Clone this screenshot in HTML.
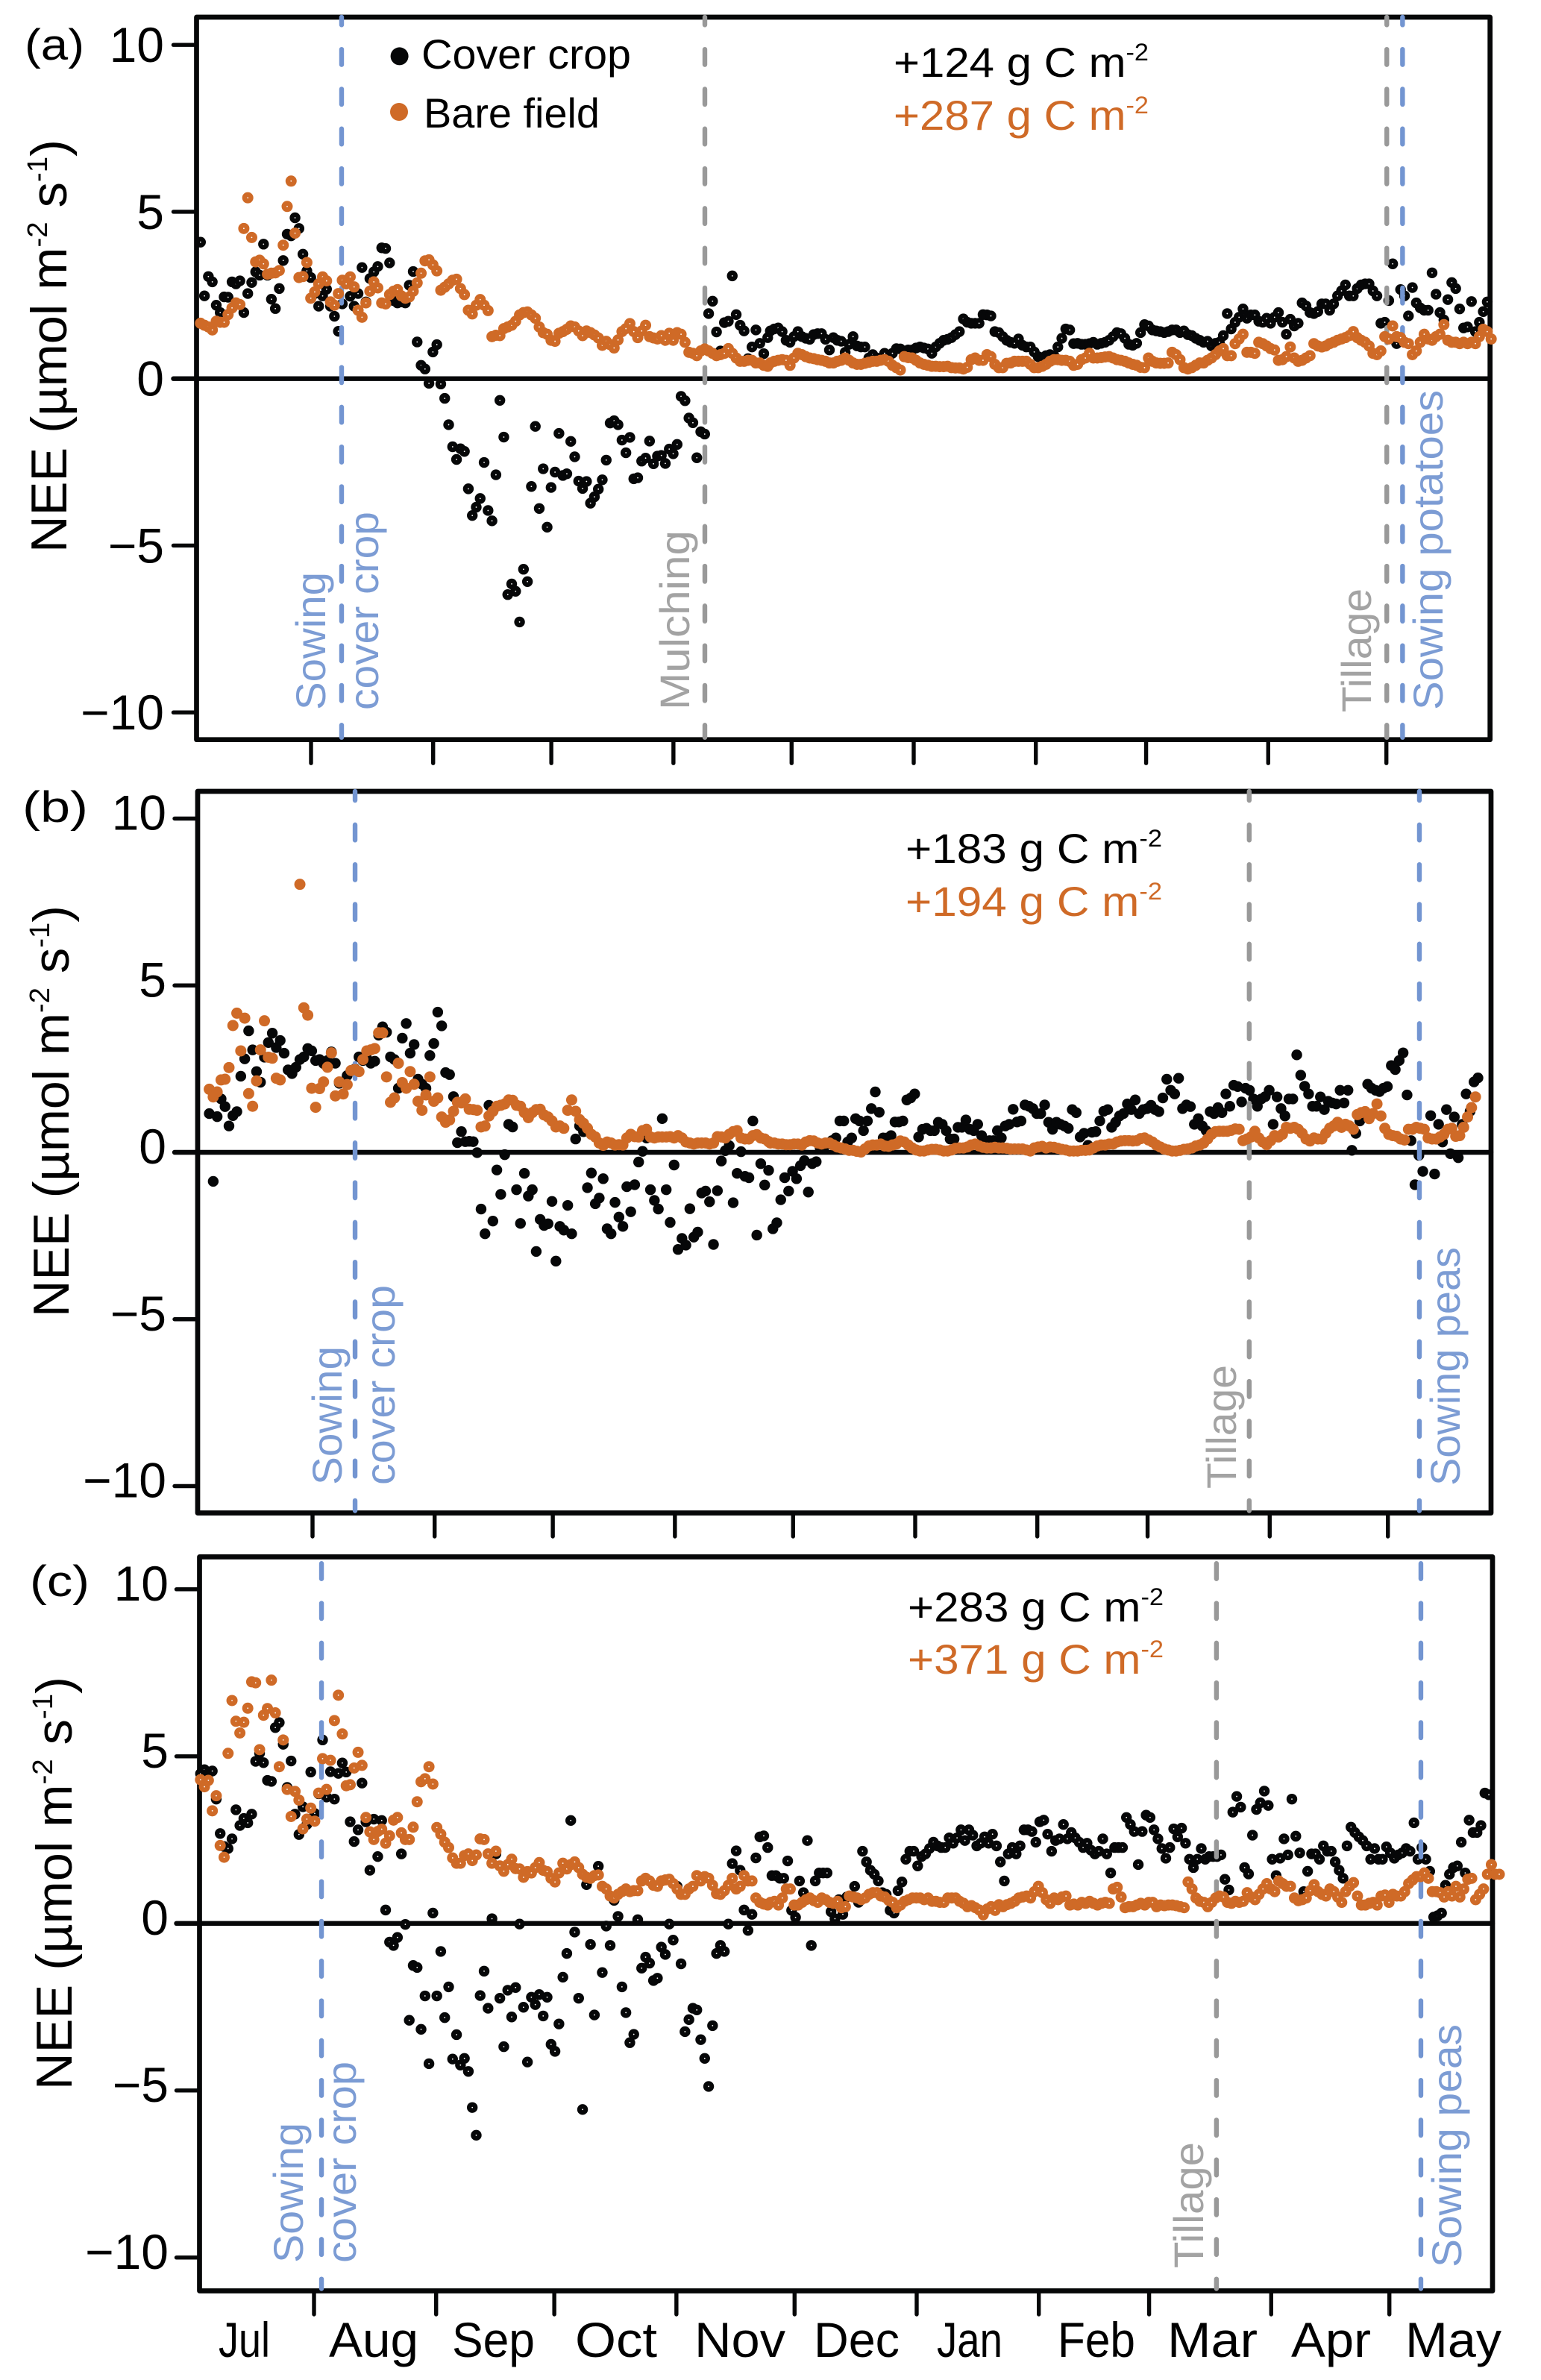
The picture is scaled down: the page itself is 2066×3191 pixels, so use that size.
<!DOCTYPE html>
<html lang="en">
<head>
<meta charset="utf-8">
<title>NEE time series for cover crop and bare field</title>
<style>
html,body{margin:0;padding:0;background:#fff}
svg{display:block}
text{font-family:"Liberation Sans",sans-serif}
</style>
</head>
<body>
<svg id="chart" xmlns="http://www.w3.org/2000/svg" width="2066" height="3191" viewBox="0 0 2066 3191">
<rect x="0" y="0" width="2066" height="3191" fill="#fff"/>
<g id="axes"></g>
<g id="coverMarks"></g>
<g id="events"></g>
<g id="bareMarks"></g>

<g>
<text x="33" y="80" font-size="58" textLength="80" lengthAdjust="spacingAndGlyphs">(a)</text>
<text transform="translate(89,741) rotate(-90)" font-size="68" textLength="554" lengthAdjust="spacingAndGlyphs">NEE (µmol m<tspan dy="-26" font-size="38">-2</tspan><tspan dy="26"> s</tspan><tspan dy="-26" font-size="38">-1</tspan><tspan dy="26">)</tspan></text>
<text x="565" y="92" font-size="56" textLength="281" lengthAdjust="spacingAndGlyphs">Cover crop</text>
<text x="568" y="171" font-size="56" textLength="236" lengthAdjust="spacingAndGlyphs">Bare field</text>
<text x="1198" y="103" font-size="56" textLength="342" lengthAdjust="spacingAndGlyphs">+124 g C m<tspan dy="-22" font-size="32">-2</tspan></text>
<text x="1198" y="174" font-size="56" fill="#cf6a27" textLength="342" lengthAdjust="spacingAndGlyphs">+287 g C m<tspan dy="-22" font-size="32">-2</tspan></text>
<text transform="translate(436,952) rotate(-90)" font-size="56" fill="#7c9cd4" textLength="185" lengthAdjust="spacingAndGlyphs">Sowing</text>
<text transform="translate(507,952) rotate(-90)" font-size="56" fill="#7c9cd4" textLength="266" lengthAdjust="spacingAndGlyphs">cover crop</text>
<text transform="translate(924,952) rotate(-90)" font-size="56" fill="#a3a3a3" textLength="241" lengthAdjust="spacingAndGlyphs">Mulching</text>
<text transform="translate(1838,955) rotate(-90)" font-size="56" fill="#a3a3a3" textLength="166" lengthAdjust="spacingAndGlyphs">Tillage</text>
<text transform="translate(1934,952) rotate(-90)" font-size="56" fill="#7c9cd4" textLength="429" lengthAdjust="spacingAndGlyphs">Sowing potatoes</text>
</g>

<g>
<text x="30" y="1102" font-size="58" textLength="88" lengthAdjust="spacingAndGlyphs">(b)</text>
<text transform="translate(92,1766) rotate(-90)" font-size="68" textLength="552" lengthAdjust="spacingAndGlyphs">NEE (µmol m<tspan dy="-26" font-size="38">-2</tspan><tspan dy="26"> s</tspan><tspan dy="-26" font-size="38">-1</tspan><tspan dy="26">)</tspan></text>
<text x="1214" y="1157" font-size="56" textLength="344" lengthAdjust="spacingAndGlyphs">+183 g C m<tspan dy="-22" font-size="32">-2</tspan></text>
<text x="1214" y="1228" font-size="56" fill="#cf6a27" textLength="344" lengthAdjust="spacingAndGlyphs">+194 g C m<tspan dy="-22" font-size="32">-2</tspan></text>
<text transform="translate(458,1991) rotate(-90)" font-size="56" fill="#7c9cd4" textLength="186" lengthAdjust="spacingAndGlyphs">Sowing</text>
<text transform="translate(529,1991) rotate(-90)" font-size="56" fill="#7c9cd4" textLength="268" lengthAdjust="spacingAndGlyphs">cover crop</text>
<text transform="translate(1657,1996) rotate(-90)" font-size="56" fill="#a3a3a3" textLength="166" lengthAdjust="spacingAndGlyphs">Tillage</text>
<text transform="translate(1957,1992) rotate(-90)" font-size="56" fill="#7c9cd4" textLength="320" lengthAdjust="spacingAndGlyphs">Sowing peas</text>
</g>

<g>
<text x="40" y="2140" font-size="58" textLength="80" lengthAdjust="spacingAndGlyphs">(c)</text>
<text transform="translate(96,2802) rotate(-90)" font-size="68" textLength="554" lengthAdjust="spacingAndGlyphs">NEE (µmol m<tspan dy="-26" font-size="38">-2</tspan><tspan dy="26"> s</tspan><tspan dy="-26" font-size="38">-1</tspan><tspan dy="26">)</tspan></text>
<text x="1217" y="2174" font-size="56" textLength="343" lengthAdjust="spacingAndGlyphs">+283 g C m<tspan dy="-22" font-size="32">-2</tspan></text>
<text x="1217" y="2244" font-size="56" fill="#cf6a27" textLength="343" lengthAdjust="spacingAndGlyphs">+371 g C m<tspan dy="-22" font-size="32">-2</tspan></text>
<text transform="translate(406,3034) rotate(-90)" font-size="56" fill="#7c9cd4" textLength="188" lengthAdjust="spacingAndGlyphs">Sowing</text>
<text transform="translate(477,3034) rotate(-90)" font-size="56" fill="#7c9cd4" textLength="270" lengthAdjust="spacingAndGlyphs">cover crop</text>
<text transform="translate(1613,3041) rotate(-90)" font-size="56" fill="#a3a3a3" textLength="169" lengthAdjust="spacingAndGlyphs">Tillage</text>
<text transform="translate(1959,3040) rotate(-90)" font-size="56" fill="#7c9cd4" textLength="326" lengthAdjust="spacingAndGlyphs">Sowing peas</text>
</g>

<g font-size="66">
<text x="293" y="3160" textLength="69" lengthAdjust="spacingAndGlyphs">Jul</text>
<text x="441" y="3160" textLength="120" lengthAdjust="spacingAndGlyphs">Aug</text>
<text x="606" y="3160" textLength="111" lengthAdjust="spacingAndGlyphs">Sep</text>
<text x="771" y="3160" textLength="110" lengthAdjust="spacingAndGlyphs">Oct</text>
<text x="931" y="3160" textLength="122" lengthAdjust="spacingAndGlyphs">Nov</text>
<text x="1091" y="3160" textLength="115" lengthAdjust="spacingAndGlyphs">Dec</text>
<text x="1256" y="3160" textLength="88" lengthAdjust="spacingAndGlyphs">Jan</text>
<text x="1418" y="3160" textLength="104" lengthAdjust="spacingAndGlyphs">Feb</text>
<text x="1565" y="3160" textLength="121" lengthAdjust="spacingAndGlyphs">Mar</text>
<text x="1731" y="3160" textLength="107" lengthAdjust="spacingAndGlyphs">Apr</text>
<text x="1884" y="3160" textLength="129" lengthAdjust="spacingAndGlyphs">May</text>
</g>
</svg>

<script>
const tickDays = [31,62,92,123,153,184,215,243,274,304];
const yTickValues = [10,5,0,-5,-10];
const yTickLabels = ['10','5','0','\u22125','\u221210'];

const coverA1 = [4.09,2.48,3.06,2.9,2.2,1.98,2.45,2.44,2.9,2.84,2.93,1.98,2.55,2.88,3.2,3.1,4.03,3.1,2.38,2.1,2.7,3.54,4.33,4.28,4.82,4.5,3.73,3.23,3.03,2.55,2.17,2.48,2.68,2.17,1.87,1.42,2.24,2.84,2.47,2.17,2.55,3.33,2.3,3.0,3.2,3.36,3.92,3.9,3.47,2.34,2.27,2.3,2.27,2.8,3.21,1.1,0.4,0.29,-0.14,0.8,1.02,-0.16,-0.59,-1.38,-2.04,-2.42,-2.1,-2.18,-3.3,-4.1,-3.85,-3.59,-2.51,-3.95,-4.26,-2.88,-0.65,-1.75,-6.47,-6.15,-6.37,-7.29,-5.71,-6.08,-3.23,-1.43,-3.89,-2.7,-4.45,-3.26,-2.8,-1.64,-2.9,-2.85,-1.88,-2.34,-3.07,-3.29,-3.08,-3.73,-3.54,-3.31,-3.03,-2.44,-1.33,-1.26,-1.38,-1.84,-2.22,-1.76,-3.0,-2.97,-2.47,-2.38,-1.87,-2.55,-2.32,-2.3,-2.54,-2.11,-2.25,-1.97,-0.53,-0.66,-1.18,-1.32,-2.37,-1.59,-1.66,1.95,2.32,1.4,0.83,1.68,1.72,3.08,1.92,1.6,1.43,0.6,0.95,1.46,1.06,0.75,1.23];
const coverA2 = [1.43,1.49,1.52,1.41,1.15,1.09,1.26,1.41,1.26,1.21,1.18,1.32,1.35,1.35,1.18,0.86,1.23,1.15,1.12,0.79,1.03,1.26,0.98,0.95,0.95,0.62,0.72,0.62,0.57,0.76,0.62,0.76,0.9,0.89,0.83,0.86,0.86,0.92,0.95,0.92,0.89,0.76,0.95,1.06,1.15,1.18,1.23,1.32,1.41,1.79,1.69,1.66,1.66,1.66,1.92,1.91,1.88,1.41,1.38,1.26,1.15,1.09,1.06,1.19,1.0,0.95,0.95,0.8,0.66,0.63,0.69,0.72,0.69,0.95,1.21,1.49,1.46,1.05,1.06,1.03,1.03,1.05,1.09,1.03,1.06,1.09,1.15,1.26,1.38,1.35,1.21,1.03,1.0,1.06,1.38,1.62,1.58,1.46,1.43,1.41,1.38,1.41,1.46,1.46,1.38,1.43,1.32,1.29,1.21,1.15,1.09,1.12,0.98,1.06,1.09,1.29,1.95,1.49,1.69,1.84,2.09,1.81,1.91,1.91,1.72,1.69,1.81,1.66,1.84,1.98,1.69,1.33,1.78,1.58,1.66,2.27,2.18,1.98,1.95,2.01,2.24,2.24,2.05,2.24,2.48,2.63,2.81,2.48,2.48,2.7,2.81,2.84,2.84,2.63,2.48,1.66,1.69,2.34,3.44,1.05,2.67,2.48,1.88,2.73,2.27,2.12,2.05,2.05,3.17,2.53,1.98,1.76,2.37,2.88,2.7,2.09,1.52,1.55,2.31,1.41,1.69,2.01,2.3];
const bareA1 = [1.66,1.6,1.55,1.46,1.72,1.69,1.69,1.92,2.12,2.27,2.22,4.5,5.42,4.23,3.5,3.55,3.44,3.13,3.16,3.17,3.24,4.0,5.16,5.92,4.36,3.03,3.06,3.48,2.41,2.6,2.84,3.05,2.93,2.3,2.2,2.55,2.95,2.84,3.05,2.75,2.05,1.84,2.27,2.62,2.9,2.72,2.27,2.24,2.52,2.62,2.67,2.48,2.41,2.45,2.62,2.87,3.16,3.53,3.56,3.41,3.23,2.65,2.74,2.84,2.95,2.98,2.7,2.52,2.05,1.94,2.2,2.37,2.2,2.04,1.26,1.3,1.29,1.5,1.55,1.6,1.72,1.91,1.98,2.0,1.91,1.81,1.55,1.38,1.33,1.15,1.12,1.36,1.41,1.48,1.58,1.55,1.43,1.29,1.43,1.38,1.31,1.22,1.0,1.12,1.02,0.92,1.16,1.41,1.5,1.65,1.41,1.23,1.43,1.6,1.26,1.22,1.19,1.29,1.15,1.36,1.15,1.38,1.33,1.09,0.79,0.76,0.69,0.83,0.89,0.83,0.76,0.69,0.72,0.76,0.9,0.76,0.62,0.52,0.52,0.55,0.55,0.47,0.47,0.4,0.37];
const bareA2 = [0.47,0.52,0.55,0.57,0.55,0.4,0.62,0.76,0.72,0.66,0.62,0.6,0.57,0.55,0.52,0.47,0.47,0.52,0.55,0.62,0.55,0.47,0.43,0.43,0.46,0.49,0.52,0.52,0.55,0.57,0.52,0.4,0.33,0.26,0.66,0.63,0.62,0.55,0.47,0.43,0.4,0.37,0.37,0.36,0.36,0.37,0.33,0.32,0.32,0.29,0.34,0.57,0.62,0.55,0.55,0.72,0.66,0.43,0.33,0.33,0.46,0.47,0.52,0.52,0.52,0.52,0.43,0.33,0.33,0.37,0.43,0.52,0.57,0.57,0.55,0.55,0.52,0.4,0.43,0.57,0.62,0.76,0.62,0.62,0.63,0.65,0.66,0.62,0.57,0.55,0.52,0.47,0.43,0.4,0.34,0.33,0.62,0.52,0.47,0.46,0.46,0.47,0.79,0.72,0.57,0.33,0.29,0.33,0.4,0.47,0.47,0.55,0.62,0.72,0.83,0.9,0.69,0.69,1.05,1.19,1.33,0.79,0.79,0.76,1.09,1.05,0.98,0.9,0.86,0.55,0.57,0.66,0.95,0.62,0.52,0.55,0.62,0.69,1.05,0.98,0.95,0.98,1.05,1.09,1.15,1.19,1.23,1.29,1.41,1.23,1.15,1.09,0.98,0.76,0.72,0.83,1.26,1.19,1.58,1.26,1.23,1.09,1.05,0.72,0.83,1.09,1.33,1.19,1.15,1.26,1.33,1.62,1.15,1.09,1.09,1.05,1.09,1.05,1.09,1.05,1.26,1.48,1.41,1.19];

const coverB1 = [1.16,-0.87,1.07,1.6,1.37,0.79,1.1,1.22,2.28,2.8,3.64,3.07,2.42,2.1,2.85,3.29,3.57,3.14,3.35,2.97,2.47,2.36,2.55,2.78,2.86,3.11,3.04,2.75,2.78,2.66,2.75,3.01,2.67,2.07,2.11,2.3,2.45,2.5,2.86,2.75,2.81,2.67,2.73,3.51,3.76,3.6,2.86,2.78,1.92,3.42,3.86,2.97,3.23,2.19,2.04,1.92,2.9,3.26,4.2,3.79,2.39,2.33,1.67,0.29,0.62,0.32,0.33,0.32,-0.01,-1.7,-2.44,1.41,-2.06,-0.53,-1.26,-0.07,0.84,0.76,-1.12,-2.13,-0.63,-1.31,-1.12,-2.97,-2.01,-2.19,-2.14,-1.47,-3.26,-2.22,-2.33,-1.59,-2.44,0.4,0.79,0.62,-1.06,-0.62,-1.54,-1.37,-0.79,-2.29,-2.44,-1.5,-1.94,-2.22,-1.03,-1.78,-0.97,-0.29,0.03,0.43,-1.12,-1.44,-1.7,1.01,-1.12,-2.1,-0.38,-2.91,-2.58,-2.78,-1.69,-2.54,-2.39,-1.22,-1.16,-1.48,-2.76,-1.15,-0.26,0.05,0.2,-1.51,-0.63,0.02,-0.72,-0.76,0.94,-2.48,-0.34,-0.98,-0.54];
const coverB2 = [-2.29,-2.11,-1.42,-0.76,-1.16,-0.57,-0.79,-0.4,-0.25,-1.19,-0.34,-0.28,0.13,0.16,0.25,0.35,0.43,0.94,0.94,0.31,0.43,1.01,0.94,0.65,0.94,1.31,1.81,1.2,0.43,0.43,0.5,0.91,0.91,0.94,1.57,1.63,1.75,0.46,0.69,0.72,0.65,0.65,0.9,0.84,0.65,0.4,0.4,0.75,0.75,0.97,0.69,0.65,0.84,0.5,0.28,0.35,0.35,0.65,0.43,0.79,0.84,1.29,0.91,0.94,1.42,1.38,1.31,1.16,1.16,1.42,0.9,0.69,0.9,0.84,0.79,0.72,1.28,1.19,0.46,0.57,0.21,0.6,0.62,0.94,1.23,1.28,0.75,0.9,1.09,1.16,1.45,1.28,1.57,1.16,1.28,1.31,1.41,1.28,1.22,1.63,2.19,1.86,1.75,2.22,1.31,1.42,1.37,0.84,1.01,0.79,0.65,1.22,1.16,1.34,1.19,1.75,1.38,2.01,1.97,1.51,1.92,1.86,1.6,1.38,1.6,1.67,1.86,0.84,1.66,1.31,1.09,1.6,1.6,2.92,2.31,1.98,1.75,1.38,1.38,1.66,1.28,1.53,1.48,1.45,1.86,1.48,1.86,0.06,0.57,0.94,1.09,2.04,1.92,1.86,1.82,1.92,1.97,2.6,2.48,2.75,2.98,1.72,0.35,-0.97,-0.09,-0.57,null,1.1,-0.65,0.84,0.31,1.28,-0.04,1.06,-0.16,0.84,1.75,1.23,2.11,2.23];
const bareB1 = [1.89,1.66,1.81,2.17,2.19,2.54,3.8,4.17,3.04,4.02,1.76,1.38,2.14,3.07,3.94,2.85,2.82,2.22,2.17,null,null,null,null,8.03,4.33,4.11,1.92,1.35,1.91,2.11,2.55,2.98,1.69,2.11,1.75,2.03,2.45,2.48,2.42,2.78,3.04,3.07,3.11,3.58,3.58,2.26,1.5,1.63,2.67,2.09,1.92,2.42,2.04,1.53,1.26,1.72,2.26,1.53,1.63,1.06,0.9,0.97,1.23,1.5,1.48,1.6,1.29,1.28,1.26,0.76,0.79,1.09,1.23,1.38,1.41,1.45,1.57,1.56,1.41,1.38,1.19,1.04,1.19,1.28,1.29,1.12,1.06,0.94,0.76,0.79,0.72,1.26,1.57,1.23,0.98,0.87,0.72,0.54,0.46,0.28,0.21,0.31,0.28,0.22,0.23,0.22,0.43,0.54,0.47,0.46,0.65,0.69,0.46,0.43,0.46,0.46,0.46,0.47,0.43,0.5,0.43,0.31,0.28,0.25,0.28,0.28,0.28,0.25,0.28,0.47,0.46,0.43,0.54,0.62,0.65,0.43,0.4,0.4,0.5,0.53,0.43,0.4,0.32];
const bareB2 = [0.28,0.28,0.25,0.25,0.23,0.23,0.25,0.25,0.22,0.31,0.35,0.34,0.28,0.25,0.28,0.28,0.22,0.16,0.13,0.1,0.06,0.06,0.03,0.01,0.1,0.19,0.22,0.22,0.25,0.19,0.18,0.22,0.25,0.34,0.31,0.22,0.13,0.07,0.04,0.04,0.07,0.09,0.09,0.07,0.04,0.04,0.07,0.12,0.13,0.13,0.16,0.22,0.25,0.19,0.15,0.13,0.13,0.15,0.13,0.13,0.12,0.1,0.1,0.1,0.1,0.07,0.04,0.13,0.16,0.18,0.13,0.16,0.15,0.12,0.09,0.07,0.04,0.04,0.04,0.06,0.06,0.07,0.13,0.19,0.22,0.22,0.25,0.25,0.31,0.34,0.35,0.35,0.34,0.35,0.41,0.43,0.37,0.31,0.22,0.16,0.1,0.07,0.04,0.04,0.06,0.09,0.1,0.13,0.19,0.22,0.28,0.4,0.54,0.62,0.63,0.63,0.63,0.66,0.7,0.69,0.35,0.4,0.46,0.63,0.43,0.31,0.23,0.35,0.5,0.46,0.54,0.75,0.72,0.75,0.69,0.57,0.4,0.34,0.43,0.4,0.4,0.57,0.72,0.79,0.9,0.75,0.84,0.79,0.69,1.13,1.19,1.22,1.01,1.16,1.45,1.09,0.72,0.54,0.5,0.48,0.4,0.37,0.69,0.69,0.75,0.72,0.69,0.43,0.4,0.4,0.46,0.54,0.69,0.72,0.48,0.5,0.75,1.06,1.34,1.66];

const coverC1 = [4.48,4.6,4.5,4.56,3.72,2.69,2.3,2.24,2.53,3.4,2.93,3.14,3.01,3.27,4.85,5.09,4.81,4.28,4.25,5.86,6.01,5.36,4.07,4.86,3.27,2.66,3.49,2.96,4.53,3.29,3.88,5.49,3.78,4.54,3.72,4.49,4.8,4.53,3.04,2.45,2.8,4.2,3.04,1.59,3.12,2.0,3.08,0.4,-0.56,-0.66,-0.42,2.08,-0.03,-2.9,-1.26,-1.32,-3.17,-2.17,-4.2,0.31,-2.17,-0.84,-2.82,-1.9,-4.06,-3.33,-4.24,-4.04,-4.43,-5.51,-6.34,-2.16,-1.43,-2.54,0.14,2.08,-2.24,-3.69,-2.0,-2.8,-1.92,-0.02,-2.51,-4.15,-2.21,-2.43,-2.13,-2.77,-2.21,-3.62,-3.83,-3.01,-1.61,-0.9,3.08,-0.26,-2.24,-5.57,1.16,-0.63,-2.74,1.71,-1.47,-0.08,-0.66,0.69,0.21,-1.9,-2.67,-3.57,-3.32,0.11,-1.34,-1.01,-1.19,-1.71,-1.64,-0.71,-0.93,-0.02,-0.5,1.11,-1.21,-3.24,-2.88,-2.54,-2.59,-3.48,-4.04,-4.88,-3.06,-0.9,-0.66,-0.84,-0.02,1.79,2.17,1.59,0.4,-0.21,0.27,1.96,2.59,2.62,2.27];
const coverC2 = [1.43,1.43,1.35,1.35,1.87,0.39,0.18,1.27,0.92,2.48,-0.66,1.27,1.51,1.51,1.51,0.35,0.14,0.71,0.27,0.79,0.82,1.11,0.63,2.16,1.84,1.59,1.47,1.27,0.92,0.87,0.39,0.31,0.98,1.24,1.92,2.16,2.16,1.72,2.0,2.08,2.24,2.43,2.32,2.27,2.27,2.56,2.4,2.56,2.8,2.48,2.8,2.64,2.32,2.4,2.59,2.4,2.67,2.32,1.84,1.27,2.08,2.27,2.08,2.32,2.8,2.8,2.75,2.43,3.04,3.09,2.67,2.16,2.48,2.53,2.96,2.53,2.72,2.56,2.43,2.27,2.4,2.19,2.08,2.16,2.53,2.08,1.51,2.27,2.27,2.27,3.17,2.96,2.75,1.76,2.75,3.24,3.17,2.8,2.53,2.24,1.95,2.27,2.83,2.59,2.85,2.4,1.92,1.67,1.92,2.24,1.92,2.0,2.0,2.0,2.05,1.32,1.0,3.33,3.8,3.48,1.67,1.48,2.64,3.41,3.61,3.96,3.53,1.92,1.43,1.95,2.53,2.05,3.72,2.61,2.11,0.95,1.56,2.08,2.08,1.92,2.32,2.16,2.16,1.84,1.59,1.35,2.32,2.88,2.72,2.59,2.48,2.32,1.92,2.24,1.92,1.92,2.29,2.11,1.95,2.05,2.11,2.24,2.16,3.01,1.92,2.27,1.92,1.56,0.19,0.23,0.31,1.14,1.47,1.67,1.72,2.43,1.51,3.09,2.72,2.72,2.93,3.9,3.85];
const bareC1 = [4.3,4.09,4.28,3.37,3.82,2.33,1.98,5.09,6.67,6.05,5.7,6.02,6.44,7.23,7.2,5.2,6.23,6.43,7.28,6.3,4.69,5.49,4.01,3.2,3.95,3.69,2.83,3.12,3.45,3.06,3.9,4.93,4.01,4.88,6.07,6.83,5.67,4.12,4.15,4.65,5.12,4.73,3.17,2.74,2.51,2.75,2.82,2.4,2.62,3.09,3.17,2.71,2.51,2.51,2.88,3.64,4.24,4.33,4.69,4.17,2.87,2.67,2.43,2.27,1.96,1.8,1.8,2.03,2.08,1.88,2.05,2.53,2.51,2.08,1.8,2.16,1.72,1.56,1.76,1.92,1.64,1.63,1.38,1.55,1.51,1.67,1.82,1.59,1.55,1.35,1.24,1.51,1.8,1.63,1.76,1.84,1.67,1.47,1.38,1.35,1.43,1.45,1.11,1.03,0.82,0.76,0.87,0.95,1.03,0.95,0.98,0.98,1.27,1.35,1.27,1.14,1.11,1.27,1.3,1.32,1.19,1.03,0.87,0.87,1.03,1.11,1.43,1.27,1.4,1.35,1.14,0.89,0.87,0.98,1.14,1.35,1.03,1.11,1.43,1.27,1.27,0.76,0.63,0.58,0.55];
const bareC2 = [0.63,0.66,0.55,0.76,1.03,1.03,0.55,0.55,0.63,0.71,0.76,0.68,0.63,0.76,0.71,0.63,0.6,0.66,0.47,0.5,0.82,0.79,0.76,0.71,0.76,0.87,0.92,0.92,0.82,0.79,0.69,0.63,0.47,0.55,0.66,0.71,0.76,0.76,0.76,0.71,0.76,0.66,0.66,0.63,0.63,0.76,0.76,0.76,0.66,0.6,0.5,0.53,0.47,0.4,0.26,0.43,0.5,0.39,0.56,0.5,0.56,0.6,0.66,0.76,0.79,0.82,0.76,0.95,1.11,0.92,0.71,0.6,0.76,0.71,0.79,0.82,0.55,0.58,0.55,0.63,0.6,0.66,0.6,0.55,0.6,0.63,0.6,1.03,1.08,0.79,0.47,0.5,0.5,0.55,0.6,0.55,0.63,0.63,0.5,0.55,0.53,0.55,0.55,0.53,0.5,0.47,1.24,1.03,0.76,0.66,0.63,0.5,0.63,0.76,0.82,0.79,0.63,0.6,0.66,0.63,0.66,0.92,0.79,0.71,0.87,1.03,1.19,1.03,0.95,1.27,1.19,1.11,1.11,0.76,0.68,0.71,0.76,0.98,1.16,0.95,0.87,0.82,1.03,0.95,0.79,0.63,0.95,1.11,1.22,0.82,0.55,0.55,0.6,0.63,0.55,0.82,0.85,0.63,0.87,0.82,0.82,0.95,1.19,1.3,1.4,1.4,1.51,1.35,0.95,0.95,0.92,0.79,0.95,0.82,1.11,0.79,1.03,1.32,1.35,0.71,0.87,1.03,1.47,1.76,1.47,1.47];

const segmentStartsA = [2.94,147.6];
const segmentStartsB = [4.79,147.87];
const segmentStartsC = [2.18,146.9];

const eventDaysA = [38.76,130.98,304.1,308.1];
const eventKindsA = ['sowing','management','management','sowing'];
const eventDaysB = [41.8,268.8,312];
const eventKindsB = ['sowing','management','sowing'];
const eventDaysC = [32.9,260.1,312];
const eventKindsC = ['sowing','management','sowing'];

const NS = 'http://www.w3.org/2000/svg';
const axes = document.getElementById('axes');
const coverMarks = document.getElementById('coverMarks');
const eventsLayer = document.getElementById('events');
const bareMarks = document.getElementById('bareMarks');

const panelA = {left:263.5,right:1997.7,top:23,bottom:991.7,x0:417,k:5.281,y0:507.7,ky:44.75,labelRight:220,labelShift:0,dashOffset:10.15,speck:true};
const panelB = {left:265,right:1999,top:1061,bottom:2028.5,x0:419,k:5.281,y0:1545,ky:44.75,labelRight:223,labelShift:-8,dashOffset:8.45,speck:false};
const panelC = {left:267.5,right:2001,top:2087.4,bottom:3071.5,x0:421,k:5.281,y0:2578.8,ky:44.8,labelRight:226,labelShift:-8,dashOffset:44.45,speck:true};

function xScale(p,d){return p.x0+(d-31)*p.k;}
function yScale(p,v){return p.y0-v*p.ky;}

function makeLine(parent,x1,y1,x2,y2,color,w){
  const l=document.createElementNS(NS,'line');
  l.setAttribute('x1',x1);l.setAttribute('y1',y1);l.setAttribute('x2',x2);l.setAttribute('y2',y2);
  l.setAttribute('stroke',color);l.setAttribute('stroke-width',w);
  l.setAttribute('stroke-linecap','round');
  parent.appendChild(l);
  return l;
}

function drawEvents(p,days,kinds){
  days.forEach(function(d,i){
    const x=xScale(p,d);
    const color=kinds[i]==='sowing'?'#7395d1':'#999999';
    const l=makeLine(eventsLayer,x,p.top,x,p.bottom-3,color,6.4);
    l.setAttribute('stroke-dasharray','20.5 32.8');
    l.setAttribute('stroke-dashoffset',p.dashOffset);
    
    
  });
}

function drawSeries(p,layer,values,start,color,outer,seriesName){
  values.forEach(function(v,i){
    if(v===null)return;
    const c=document.createElementNS(NS,'circle');
    c.setAttribute('cx',xScale(p,start+i));
    c.setAttribute('cy',yScale(p,v));
    if(p.speck){
      c.setAttribute('r',(outer+0.9)/2);
      c.setAttribute('fill','#fff');
      c.setAttribute('stroke',color);
      c.setAttribute('stroke-width',outer-0.9);
    }else{
      c.setAttribute('r',outer);
      c.setAttribute('fill',color);
    }
    
    
    layer.appendChild(c);
  });
}

function drawAxes(p){
  const f=document.createElementNS(NS,'rect');
  f.setAttribute('x',p.left);f.setAttribute('y',p.top);
  f.setAttribute('width',p.right-p.left);f.setAttribute('height',p.bottom-p.top);
  f.setAttribute('fill','none');f.setAttribute('stroke','#060708');f.setAttribute('stroke-width',6.7);
  f.setAttribute('stroke-linejoin','round');
  
  
  axes.appendChild(f);
  const z=makeLine(axes,p.left,yScale(p,0),p.right,yScale(p,0),'#060708',6.4);
  
  
  yTickValues.forEach(function(v,i){
    const y=yScale(p,v);
    const t=makeLine(axes,p.left-31,y,p.left,y,'#060708',v===0?6.4:5.4);
    
    
    const s=document.createElementNS(NS,'text');
    s.setAttribute('x',p.labelRight);
    s.setAttribute('y',y+23+p.labelShift);
    s.setAttribute('text-anchor','end');
    s.setAttribute('font-size','66');
    s.textContent=yTickLabels[i];
    
    
    axes.appendChild(s);
  });
  tickDays.forEach(function(d){
    const x=xScale(p,d);
    const t=makeLine(axes,x,p.bottom,x,p.bottom+31.5,'#060708',5.4);
    
    
  });
}

drawAxes(panelA);
drawAxes(panelB);
drawAxes(panelC);

drawEvents(panelA,eventDaysA,eventKindsA);
drawEvents(panelB,eventDaysB,eventKindsB);
drawEvents(panelC,eventDaysC,eventKindsC);

drawSeries(panelA,coverMarks,coverA1,segmentStartsA[0],'#060708',7.2,'cover-crop-point');
drawSeries(panelA,coverMarks,coverA2,segmentStartsA[1],'#060708',7.2,'cover-crop-point');
drawSeries(panelA,bareMarks,bareA1,segmentStartsA[0],'#cf6a27',7.5,'bare-field-point');
drawSeries(panelA,bareMarks,bareA2,segmentStartsA[1],'#cf6a27',7.5,'bare-field-point');

drawSeries(panelB,coverMarks,coverB1,segmentStartsB[0],'#060708',7.2,'cover-crop-point');
drawSeries(panelB,coverMarks,coverB2,segmentStartsB[1],'#060708',7.2,'cover-crop-point');
drawSeries(panelB,bareMarks,bareB1,segmentStartsB[0],'#cf6a27',7.5,'bare-field-point');
drawSeries(panelB,bareMarks,bareB2,segmentStartsB[1]-0.64,'#cf6a27',7.5,'bare-field-point');

drawSeries(panelC,coverMarks,coverC1,segmentStartsC[0],'#060708',7.2,'cover-crop-point');
drawSeries(panelC,coverMarks,coverC2,segmentStartsC[1]+0.35,'#060708',7.2,'cover-crop-point');
drawSeries(panelC,bareMarks,bareC1,segmentStartsC[0],'#cf6a27',7.5,'bare-field-point');
drawSeries(panelC,bareMarks,bareC2,segmentStartsC[1],'#cf6a27',7.5,'bare-field-point');

const legendBlack=document.createElementNS(NS,'circle');
legendBlack.setAttribute('cx',535.6);legendBlack.setAttribute('cy',75.4);legendBlack.setAttribute('r',12);legendBlack.setAttribute('fill','#060708');


bareMarks.appendChild(legendBlack);
const legendOrange=document.createElementNS(NS,'circle');
legendOrange.setAttribute('cx',535);legendOrange.setAttribute('cy',150);legendOrange.setAttribute('r',12);legendOrange.setAttribute('fill','#cf6a27');


bareMarks.appendChild(legendOrange);
</script>
</body>
</html>
